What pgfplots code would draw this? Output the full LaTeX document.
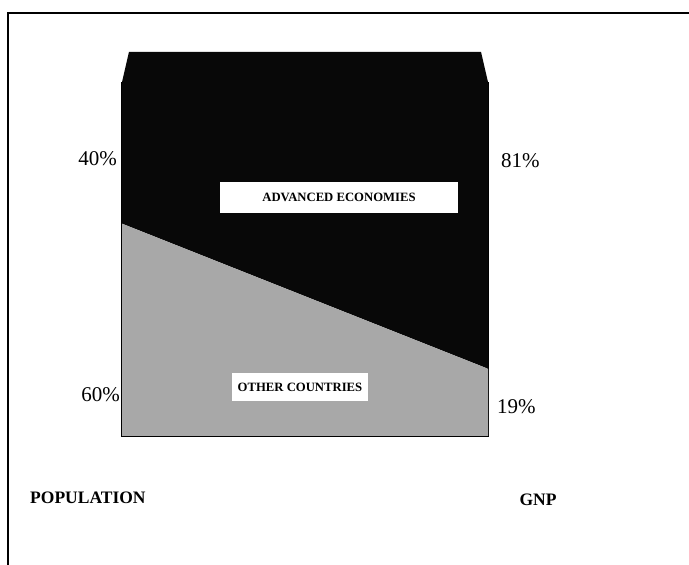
\documentclass[border=0pt]{standalone}
\usepackage{fontspec}
\setmainfont{Liberation Serif}
\usepackage{pgfplots}
\pgfplotsset{compat=1.18}
\definecolor{others}{RGB}{168,168,168}
\definecolor{advanced}{RGB}{8,8,8}
\begin{document}
\begin{tikzpicture}[x=1pt,y=1pt]
\useasboundingbox (0,0) rectangle (689,565);
\fill[white] (0,0) rectangle (689,565);
\draw[line width=1.8pt] (8,0) -- (8,552) -- (689,552);
\begin{axis}[
  anchor=origin, at={(122pt,129pt)},
  scale only axis, width=366pt, height=384pt,
  xmin=0, xmax=1, ymin=0, ymax=108.5,
  hide axis, stack plots=y, clip=false,
]
% share of world total, %: population (x=0) and GNP (x=1)
\addplot[fill=others, draw=none] coordinates {(0,60) (1,19)} \closedcycle;
\addplot[fill=advanced, draw=none] coordinates {(0,40) (1,81)} \closedcycle;
% bevelled top of the block
\fill[advanced] (axis cs:0,100) -- (axis cs:0.019,108.5) -- (axis cs:0.981,108.5) -- (axis cs:1,100) -- cycle;
\draw[line width=1.2pt] (axis cs:0,100) -- (axis cs:0,0) -- (axis cs:1,0) -- (axis cs:1,100);
\end{axis}
\begin{scope}[font=\fontsize{21}{24}\selectfont]
\node[anchor=east, inner sep=0] at (117,406) {40\%};
\node[anchor=east, inner sep=0] at (120,170) {60\%};
\node[anchor=west, inner sep=0] at (501,404) {81\%};
\node[anchor=west, inner sep=0] at (497,158) {19\%};
\end{scope}
\begin{scope}[font=\fontsize{17.5}{20}\selectfont\bfseries]
\node[anchor=west, inner sep=0] at (30,67) {POPULATION};
\node[inner sep=0] at (538,65) {GNP};
\end{scope}
\begin{scope}[font=\fontsize{12.7}{14}\selectfont\bfseries]
\node[fill=white, minimum width=238pt, minimum height=31pt, inner sep=0] at (339,367.5) {ADVANCED ECONOMIES};
\node[fill=white, minimum width=136pt, minimum height=28pt, inner sep=0] at (300,178) {OTHER COUNTRIES};
\end{scope}
\end{tikzpicture}
\end{document}
